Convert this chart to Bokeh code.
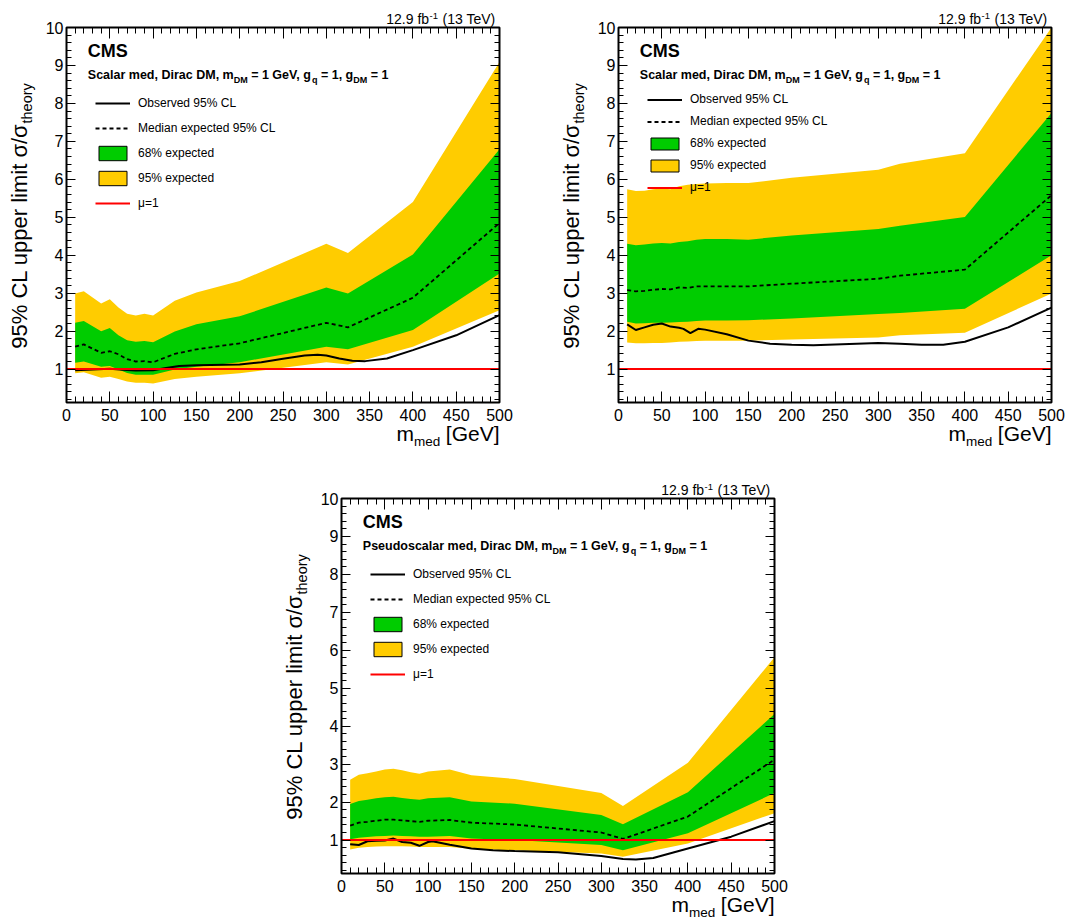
from math import pi
from bokeh.plotting import figure
from bokeh.models import (Label, Legend, LegendItem, LinearAxis, FixedTicker, Range1d,
                          Spacer, BoxAnnotation)
from bokeh.layouts import column, row
from bokeh.embed import file_html
from bokeh.resources import INLINE

# ---------------- data ----------------
# Panel A : scalar mediator (upper left)
a_mass = [10, 20, 40, 50, 60, 70, 80, 90, 100, 125, 150, 200, 300, 325, 400, 500]
a_up95 = [2.99, 3.05, 2.73, 2.84, 2.62, 2.46, 2.41, 2.46, 2.41, 2.80, 3.02, 3.32, 4.30, 4.06, 5.40, 9.09]
a_up68 = [2.22, 2.27, 2.00, 2.08, 1.89, 1.76, 1.72, 1.74, 1.71, 1.99, 2.18, 2.39, 3.15, 2.99, 4.02, 6.79]
a_med = [1.59, 1.65, 1.43, 1.47, 1.39, 1.26, 1.20, 1.21, 1.18, 1.40, 1.52, 1.68, 2.22, 2.10, 2.88, 4.85]
a_lo68 = [1.17, 1.20, 1.06, 1.08, 0.99, 0.90, 0.85, 0.85, 0.85, 0.99, 1.06, 1.18, 1.59, 1.52, 2.03, 3.52]
a_lo95 = [0.89, 0.92, 0.77, 0.80, 0.74, 0.67, 0.64, 0.64, 0.62, 0.74, 0.80, 0.89, 1.18, 1.12, 1.59, 2.55]
a_obs_mass = [10, 30, 50, 65, 80, 100, 115, 130, 150, 200, 225, 250, 275, 290, 300, 315, 330, 345, 370, 400, 450, 500]
a_obs = [0.97, 0.99, 1.01, 0.98, 0.96, 0.97, 1.03, 1.08, 1.10, 1.12, 1.18, 1.27, 1.36, 1.38, 1.36, 1.28, 1.22, 1.21, 1.28, 1.50, 1.89, 2.42]

# Panel B : scalar mediator (upper right)
b_mass = [10, 20, 30, 40, 50, 60, 70, 80, 90, 100, 125, 150, 200, 300, 325, 400, 500]
b_up95 = [5.74, 5.69, 5.70, 5.74, 5.76, 5.74, 5.82, 5.86, 5.88, 5.89, 5.90, 5.90, 6.04, 6.25, 6.41, 6.69, 10.0]
b_up68 = [4.30, 4.26, 4.28, 4.31, 4.32, 4.31, 4.35, 4.37, 4.41, 4.43, 4.43, 4.41, 4.52, 4.69, 4.78, 5.01, 7.75]
b_med = [3.08, 3.05, 3.06, 3.09, 3.11, 3.10, 3.15, 3.14, 3.18, 3.18, 3.18, 3.18, 3.25, 3.38, 3.46, 3.62, 5.58]
b_lo68 = [2.25, 2.20, 2.21, 2.22, 2.22, 2.23, 2.24, 2.25, 2.27, 2.28, 2.28, 2.29, 2.33, 2.45, 2.48, 2.59, 4.00]
b_lo95 = [1.70, 1.68, 1.68, 1.69, 1.69, 1.70, 1.72, 1.73, 1.74, 1.75, 1.75, 1.75, 1.78, 1.83, 1.89, 1.96, 2.99]
b_obs_mass = [10, 20, 30, 40, 50, 60, 70, 75, 83, 92, 100, 125, 150, 175, 200, 225, 250, 300, 325, 350, 375, 400, 450, 500]
b_obs = [2.18, 2.03, 2.10, 2.17, 2.20, 2.12, 2.09, 2.06, 1.95, 2.06, 2.04, 1.92, 1.75, 1.67, 1.64, 1.63, 1.65, 1.69, 1.67, 1.64, 1.64, 1.72, 2.10, 2.62]

# Panel C : pseudoscalar mediator (bottom)
c_mass = [10, 20, 30, 40, 50, 60, 70, 80, 90, 100, 125, 150, 200, 300, 325, 400, 500]
c_up95 = [2.59, 2.72, 2.76, 2.81, 2.86, 2.88, 2.84, 2.79, 2.75, 2.81, 2.86, 2.71, 2.61, 2.24, 1.90, 3.04, 5.82]
c_up68 = [1.95, 2.03, 2.06, 2.10, 2.13, 2.14, 2.11, 2.08, 2.06, 2.10, 2.13, 2.02, 1.96, 1.66, 1.42, 2.26, 4.32]
c_med = [1.38, 1.46, 1.48, 1.51, 1.54, 1.54, 1.52, 1.50, 1.48, 1.51, 1.53, 1.46, 1.41, 1.20, 1.03, 1.62, 3.12]
c_lo68 = [1.02, 1.06, 1.08, 1.10, 1.11, 1.12, 1.11, 1.10, 1.09, 1.09, 1.11, 1.04, 1.00, 0.87, 0.73, 1.18, 2.24]
c_lo95 = [0.75, 0.80, 0.82, 0.83, 0.84, 0.84, 0.84, 0.83, 0.82, 0.82, 0.82, 0.77, 0.73, 0.65, 0.56, 0.91, 1.71]
c_obs_mass = [10, 20, 30, 40, 50, 60, 70, 80, 90, 100, 105, 125, 150, 175, 200, 250, 300, 325, 340, 360, 400, 450, 500]
c_obs = [0.89, 0.87, 0.97, 0.98, 0.99, 1.04, 0.95, 0.93, 0.85, 0.95, 0.97, 0.88, 0.78, 0.73, 0.71, 0.68, 0.58, 0.50, 0.49, 0.53, 0.78, 1.09, 1.50]

# reference line mu = 1
mu_x = [0, 500]
mu_val = 1.0

# texts and ticks
legend_labels = ["Observed 95% CL", "Median expected 95% CL", "68% expected", "95% expected", "\u03bc=1"]
x_ticks = list(range(0, 501, 50))
x_minor = list(range(0, 501, 10))
y_ticks = list(range(1, 11))
y_minor = [round(0.2 * i, 1) for i in range(1, 51)]

# ---------------- style ----------------
XMIN, XMAX = 0, 500
YMIN, YMAX = 0.12, 10
FW, FH = 433, 375          # size of the axes box in pixels
XS = (XMAX - XMIN) / FW    # data units per pixel
YS = (YMAX - YMIN) / FH
FONT = "Liberation Sans"
YELLOW = "#ffcc00"
GREEN = "#00cc00"
BASE_K = 0.33              # correction of the rendered baseline (fraction of font size)

# Arial / Liberation Sans advance widths (1/1000 em)
W_BOLD = {' ': 278, ',': 278, '=': 584, '1': 556, 'D': 722, 'G': 778, 'M': 833, 'P': 667,
          'S': 667, 'V': 667, 'a': 556, 'c': 556, 'd': 611, 'e': 556, 'g': 611, 'i': 278,
          'l': 278, 'm': 889, 'o': 611, 'q': 611, 'r': 389, 's': 556, 'u': 611}
W_REG = {' ': 278, '(': 333, ')': 333, '1': 556, '3': 556, 'T': 611, 'e': 556, 'V': 667, '-': 333}


def tw(s, size, table):
    return sum(table[c] for c in s) * size / 1000.0


def fx(px):
    return XMIN + px * XS


def fy(py):
    return YMAX - py * YS


def put(p, px, py, text, size, bold=False, align="left", angle=0.0):
    # px, py: wanted baseline anchor in pixels relative to the top-left of the axes box
    if angle == 0.0:
        py = py - BASE_K * size
    else:
        px = px - BASE_K * size
    p.add_layout(Label(x=fx(px), y=fy(py), text=text, text_font=FONT,
                       text_font_size=f"{size}px",
                       text_font_style="bold" if bold else "normal",
                       text_align=align, text_baseline="alphabetic",
                       angle=angle, text_color="black"))


def style_axis(ax, ticker, major_in, minor_in, labels, loc):
    ax.fixed_location = loc
    ax.ticker = ticker
    ax.major_tick_in = major_in
    ax.major_tick_out = 0
    ax.minor_tick_in = minor_in
    ax.minor_tick_out = 0
    ax.major_tick_line_color = "black"
    ax.minor_tick_line_color = "black"
    ax.major_tick_line_width = 1
    ax.minor_tick_line_width = 1
    ax.axis_line_color = None
    if labels:
        ax.major_label_text_font = FONT
        ax.major_label_text_font_size = "16px"
        ax.major_label_text_color = "black"
    else:
        ax.major_label_text_font_size = "1px"
        ax.major_label_text_color = None


def make_panel(mass, up95, up68, med, lo68, lo95, obs_mass, obs, first_text,
               geom, leg_first, leg_gh, leg_sp):
    W, H, bl, bt = geom   # figure size, box left / top offsets in pixels
    p = figure(frame_width=W, frame_height=H,
               x_range=Range1d(XMIN - bl * XS, XMIN + (W - bl) * XS),
               y_range=Range1d(YMAX - (H - bt) * YS, YMAX + bt * YS),
               output_backend="svg", toolbar_location=None,
               min_border_left=0, min_border_right=0,
               min_border_top=0, min_border_bottom=0)
    p.title.visible = False
    p.xgrid.visible = False
    p.ygrid.visible = False
    p.outline_line_color = None
    p.background_fill_color = "white"
    p.border_fill_color = "white"

    style_axis(p.xaxis[0], FixedTicker(ticks=x_ticks, minor_ticks=x_minor), 11, 6, True, YMIN)
    p.xaxis[0].major_label_standoff = 6
    style_axis(p.yaxis[0], FixedTicker(ticks=y_ticks, minor_ticks=y_minor), 9, 5, True, XMIN)
    p.yaxis[0].major_label_standoff = 3
    ax_top = LinearAxis()
    style_axis(ax_top, FixedTicker(ticks=x_ticks, minor_ticks=x_minor), 11, 6, False, YMAX)
    p.add_layout(ax_top, "above")
    ax_right = LinearAxis()
    style_axis(ax_right, FixedTicker(ticks=y_ticks, minor_ticks=y_minor), 9, 5, False, XMAX)
    p.add_layout(ax_right, "right")

    # bands and curves
    p.varea(x=mass, y1=lo95, y2=up95, fill_color=YELLOW)
    p.varea(x=mass, y1=lo68, y2=up68, fill_color=GREEN)
    r_med = p.line(mass, med, line_color="black", line_width=1.8, line_dash="4 3")
    r_obs = p.line(obs_mass, obs, line_color="black", line_width=2)
    r_mu = p.line(mu_x, [mu_val] * len(mu_x), line_color="#ff0000", line_width=2)
    # hidden renderers that only provide the outlined legend swatches
    r_68 = p.quad(left=mass, right=mass, top=up68, bottom=lo68, fill_color=GREEN,
                  line_color="black", line_width=1, visible=False)
    r_95 = p.quad(left=mass, right=mass, top=up95, bottom=lo95, fill_color=YELLOW,
                  line_color="black", line_width=1, visible=False)

    # axes box
    p.add_layout(BoxAnnotation(left=XMIN, right=XMAX, bottom=YMIN, top=YMAX,
                               fill_color=None, fill_alpha=0, line_color="black",
                               line_width=2, line_alpha=1))

    items = [LegendItem(label=legend_labels[0], renderers=[r_obs]),
             LegendItem(label=legend_labels[1], renderers=[r_med]),
             LegendItem(label=legend_labels[2], renderers=[r_68]),
             LegendItem(label=legend_labels[3], renderers=[r_95]),
             LegendItem(label=legend_labels[4], renderers=[r_mu])]
    leg_top = leg_first - leg_gh / 2.0
    leg_h = 5 * leg_gh + 4 * leg_sp
    legend = Legend(items=items, location=(bl + 29, H - bt - leg_top - leg_h),
                    glyph_width=35, glyph_height=leg_gh, label_height=12,
                    label_width=20, label_standoff=8, spacing=leg_sp,
                    padding=0, margin=0, border_line_alpha=0,
                    background_fill_alpha=0, click_policy="none",
                    label_text_font=FONT, label_text_font_size="12px",
                    label_text_color="black")
    p.add_layout(legend)

    # CMS and model description
    put(p, 21.3, 29, "CMS", 18, bold=True)
    F, S, drop = 12.5, 9.0, 4.0
    pieces = [(first_text, False), ("DM", True), (" = 1 GeV, g", False), ("q", True),
              (" = 1, g", False), ("DM", True), (" = 1", False)]
    cx = 21.3
    for txt, sub in pieces:
        size = S if sub else F
        lead = len(txt) - len(txt.lstrip(" "))
        cx += lead * tw(" ", size, W_BOLD)
        core = txt.strip(" ")
        put(p, cx, 51.7 + (drop if sub else 0), core, size, bold=True)
        cx += tw(core, size, W_BOLD)

    # luminosity label above the box
    rx = FW - 4
    put(p, rx, -4.3, "(13 TeV)", 14, align="right")
    sx = rx - tw("(13 TeV)", 14, W_REG) - 3
    put(p, sx, -4.3 - 4.5, "-1", 9.5, align="right")
    sx2 = sx - tw("-1", 9.5, W_REG) - 0.5
    put(p, sx2, -4.3, "12.9 fb", 14, align="right")

    # x-axis title
    put(p, 347.5, FH + 38, "m", 21, align="right")
    put(p, 347.5, FH + 43, "med", 13.5, align="left")
    put(p, FW, FH + 38, "[GeV]", 21, align="right")

    # y-axis title (rotated)
    put(p, -40, 96, "95% CL upper limit \u03c3/\u03c3", 22, align="right", angle=pi / 2)
    put(p, -35, 96, "theory", 14.5, align="left", angle=pi / 2)
    return p


pA = make_panel(a_mass, a_up95, a_up68, a_med, a_lo68, a_lo95, a_obs_mass, a_obs,
                "Scalar med, Dirac DM, m", (546, 450, 66, 27), 75.7, 18, 7)
pB = make_panel(b_mass, b_up95, b_up68, b_med, b_lo68, b_lo95, b_obs_mass, b_obs,
                "Scalar med, Dirac DM, m", (546, 450, 72, 27), 72.3, 15, 7)
pC = make_panel(c_mass, c_up95, c_up68, c_med, c_lo68, c_lo95, c_obs_mass, c_obs,
                "Pseudoscalar med, Dirac DM, m", (546, 470, 66, 48), 75.7, 18, 7)

layout = column(row(pA, pB), row(Spacer(width=275, height=470), pC))

open("out.html", "w").write(file_html(layout, INLINE))
